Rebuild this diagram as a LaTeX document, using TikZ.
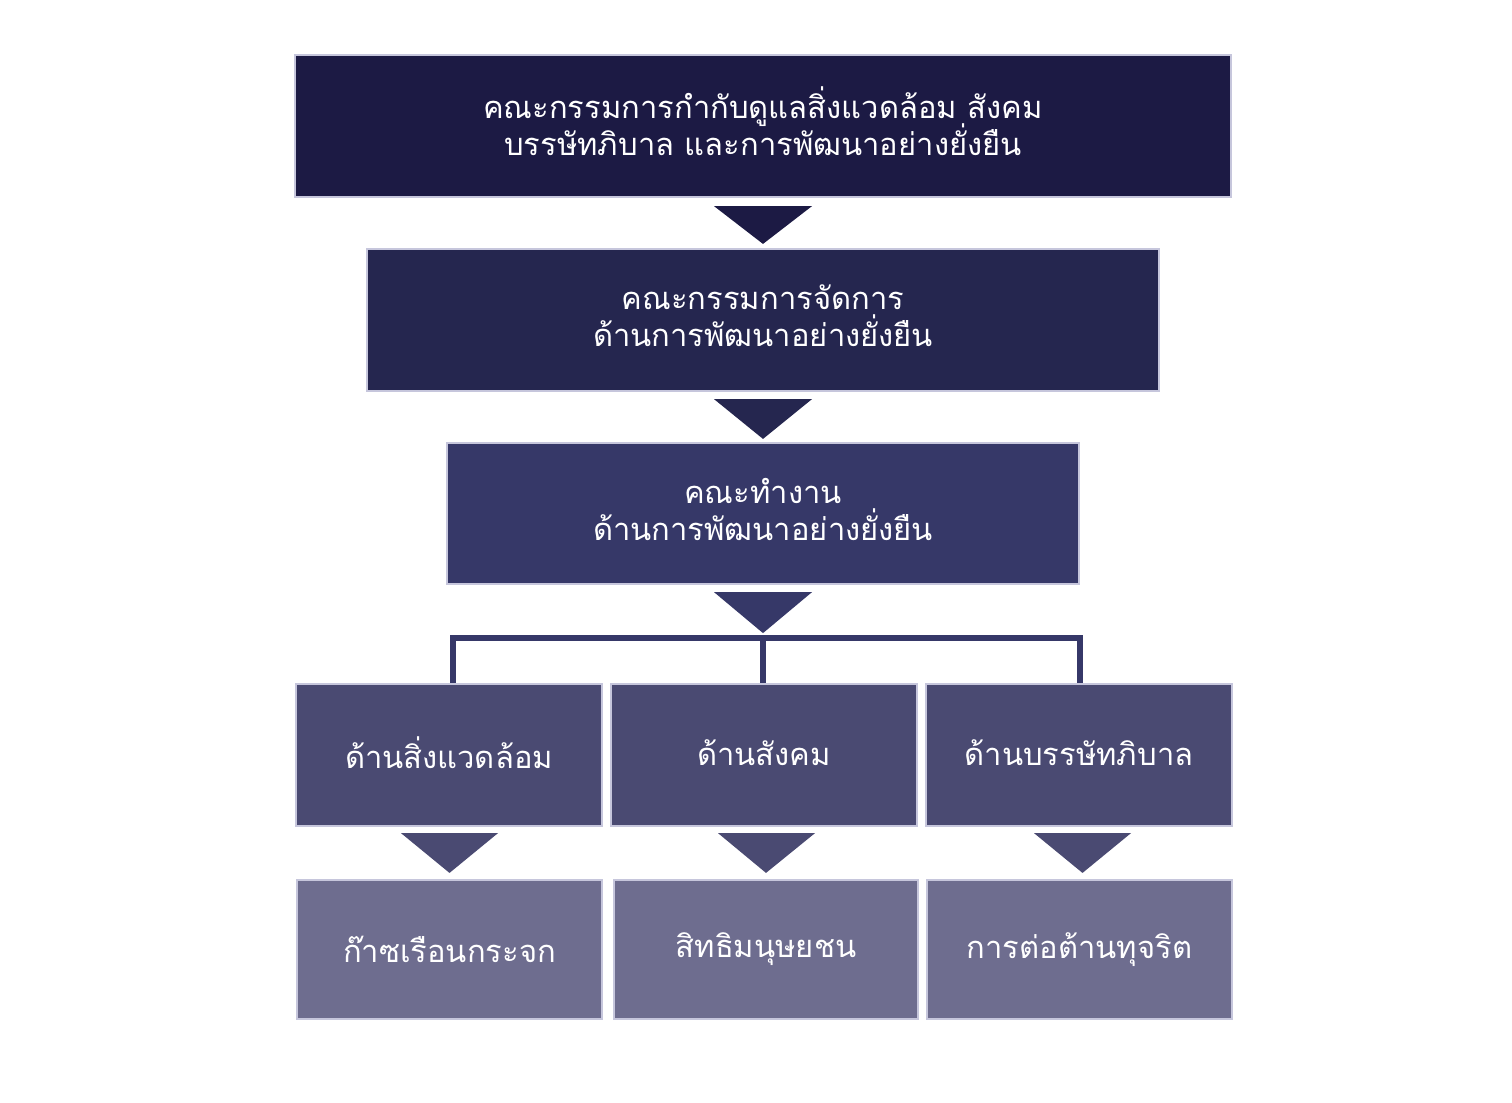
\documentclass[tikz,border=0pt]{standalone}
\usepackage{fontspec}
\newfontfamily\thaifont[Script=Thai]{Loma}
\usetikzlibrary{calc}
\definecolor{cA}{HTML}{1C1A44}
\definecolor{cB}{HTML}{25264F}
\definecolor{cC}{HTML}{363868}
\definecolor{cD}{HTML}{4A4A72}
\definecolor{cE}{HTML}{6E6D8F}
\definecolor{cEdge}{HTML}{C6C6DC}
\AtBeginDocument{\lineskiplimit=-100pt\lineskip=0pt}
\begin{document}
\begin{tikzpicture}[x=0.01cm,y=-0.01cm,
  box/.style={rectangle,draw=cEdge,line width=0.6pt,inner sep=0pt},
  txt/.style={inner sep=0pt,align=center,text=white,
    font=\thaifont\fontsize{8.8}{10.5}\selectfont},
  link/.style={draw=cC,line width=1.7pt,line join=miter}]
\useasboundingbox (0,0) rectangle (1512,1102);
\fill[white] (0,0) rectangle (1512,1102);
% boxes
\node[box,fill=cA,minimum width=9.36cm,minimum height=1.42cm] (b1) at (763,126) {};
\node[box,fill=cB,minimum width=7.92cm,minimum height=1.42cm] (b2) at (763,320) {};
\node[box,fill=cC,minimum width=6.32cm,minimum height=1.41cm] (b3) at (763,513.5) {};
\node[box,fill=cD,minimum width=3.06cm,minimum height=1.42cm] (r1) at (449,755) {};
\node[box,fill=cD,minimum width=3.06cm,minimum height=1.42cm] (r2) at (764,755) {};
\node[box,fill=cD,minimum width=3.06cm,minimum height=1.42cm] (r3) at (1079,755) {};
\node[box,fill=cE,minimum width=3.05cm,minimum height=1.39cm] (s1) at (449.5,949.5) {};
\node[box,fill=cE,minimum width=3.04cm,minimum height=1.39cm] (s2) at (766,949.5) {};
\node[box,fill=cE,minimum width=3.05cm,minimum height=1.39cm] (s3) at (1079.5,949.5) {};
% texts
\node[txt,yshift=0.05cm] (t1) at (b1.center) {คณะกรรมการกำกับดูแลสิ่งแวดล้อม สังคม\\บรรษัทภิบาล และการพัฒนาอย่างยั่งยืน};
\node[txt,yshift=0.04cm] (t2) at (b2.center) {คณะกรรมการจัดการ\\ด้านการพัฒนาอย่างยั่งยืน};
\node[txt,yshift=0.04cm] (t3) at (b3.center) {คณะทำงาน\\ด้านการพัฒนาอย่างยั่งยืน};
\node[txt,yshift=0.02cm] (u1) at (r1.center) {ด้านสิ่งแวดล้อม};
\node[txt,yshift=0.02cm] (u2) at (r2.center) {ด้านสังคม};
\node[txt,yshift=0.02cm] (u3) at (r3.center) {ด้านบรรษัทภิบาล};
\node[txt] (v1) at (s1.center) {ก๊าซเรือนกระจก};
\node[txt] (v2) at (s2.center) {สิทธิมนุษยชน};
\node[txt] (v3) at (s3.center) {การต่อต้านทุจริต};
% triangles
\fill[cA] ($(b1.south)+(-49,8)$) -- ++(98,0) -- ($(b2.north)+(0,-4)$) -- cycle;
\fill[cB] ($(b2.south)+(-49,7)$) -- ++(98,0) -- ($(b3.north)+(0,-3)$) -- cycle;
\fill[cC] ($(b3.south)+(-49,7)$) -- ++(98,0) -- ($(b3.south)+(0,48)$) -- cycle;
\fill[cD] ($(r1.south)+(-48,6)$) -- ++(97,0) -- ($(s1.north)+(0,-6)$) -- cycle;
\fill[cD] ($(r2.south)+(-46,6)$) -- ++(97,0) -- ($(s2.north)+(0,-6)$) -- cycle;
\fill[cD] ($(r3.south)+(-45,6)$) -- ++(97,0) -- ($(s3.north)+(3,-6)$) -- cycle;
% connector
\coordinate (hub) at (763,638);
\draw[link] ($(r1.north)+(4,0)$) |- (hub) -| ($(r3.north)+(1,0)$);
\draw[link] (hub) -- ($(r2.north)+(-1,0)$);
\end{tikzpicture}
\end{document}
